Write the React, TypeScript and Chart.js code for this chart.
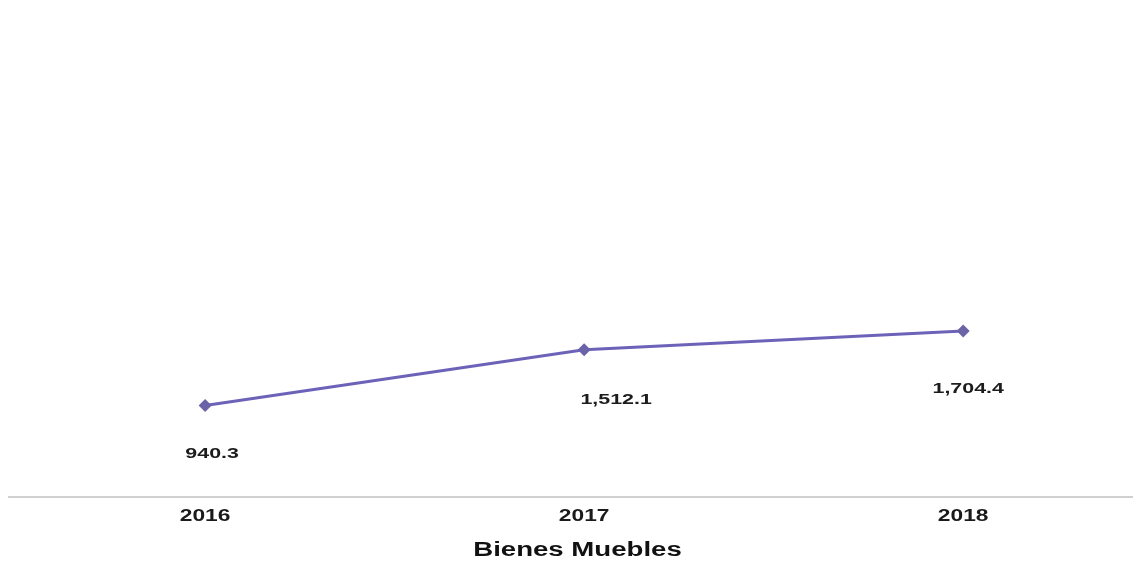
import React, { useEffect, useRef } from "react";
import { Chart, registerables } from "chart.js";

Chart.register(...registerables);

const years = ["2016", "2017", "2018"];
const values = [940.3, 1512.1, 1704.4];
const valueLabels = ["940.3", "1,512.1", "1,704.4"];
const axisTitle = "Bienes Muebles";

// label placement relative to each point (px)
const labelDx = [7, 32, 5];
const labelDy = [48, 50, 58];

const FONT = "'Liberation Sans', Arial, sans-serif";
const STRETCH = 1.38;

function drawStretched(ctx: CanvasRenderingContext2D, text: string, x: number, y: number, font: string, color: string) {
  ctx.save();
  ctx.font = font;
  ctx.fillStyle = color;
  ctx.textAlign = "center";
  ctx.textBaseline = "middle";
  ctx.translate(x, y);
  ctx.scale(STRETCH, 1);
  ctx.fillText(text, 0, 0);
  ctx.restore();
}

const textPlugin = {
  id: "textPlugin",
  afterDraw(chart: any) {
    const ctx = chart.ctx as CanvasRenderingContext2D;
    const meta = chart.getDatasetMeta(0);
    const xs = chart.scales.x;
    const area = chart.chartArea;
    meta.data.forEach((pt: any, i: number) => {
      drawStretched(ctx, valueLabels[i], pt.x + labelDx[i], pt.y + labelDy[i], `bold 15.5px ${FONT}`, "#1c1c1c");
    });
    years.forEach((y, i) => {
      drawStretched(ctx, y, xs.getPixelForValue(i), area.bottom + 19, `bold 16.5px ${FONT}`, "#1a1a1a");
    });
    drawStretched(ctx, axisTitle, (area.left + area.right) / 2 + 7, area.bottom + 53, `bold 20px ${FONT}`, "#111111");
  },
};

export default function App() {
  const ref = useRef<HTMLCanvasElement | null>(null);
  useEffect(() => {
    if (!ref.current) return;
    const chart = new Chart(ref.current, {
      type: "line",
      data: {
        datasets: [
          {
            data: values.map((v, i) => ({ x: i, y: v })),
            borderColor: "#6c63b9",
            backgroundColor: "#6a63a8",
            borderWidth: 3,
            pointStyle: "rectRot",
            pointRadius: 6.5,
            pointBorderWidth: 0,
            pointBackgroundColor: "#6a63a8",
            tension: 0,
          },
        ],
      },
      options: {
        animation: false,
        responsive: true,
        maintainAspectRatio: false,
        layout: { autoPadding: false, padding: { top: 2, left: 0, right: 0, bottom: 65 } },
        plugins: {
          legend: { display: false },
          tooltip: { enabled: false },
        },
        scales: {
          x: {
            type: "linear",
            min: -0.52,
            max: 2.448,
            afterBuildTicks: (scale: any) => {
              scale.ticks = years.map((_, i) => ({ value: i }));
            },
            ticks: { display: false },
            grid: { display: false, drawTicks: false },
            border: { display: true, color: "#d0d0d0", width: 2 },
          },
          y: {
            display: false,
            min: 0,
            max: 5000,
          },
        },
      },
      plugins: [textPlugin],
    });
    return () => chart.destroy();
  }, []);
  return (
    <div style={{ width: 1125, height: 554 }}>
      <canvas ref={ref} />
    </div>
  );
}
